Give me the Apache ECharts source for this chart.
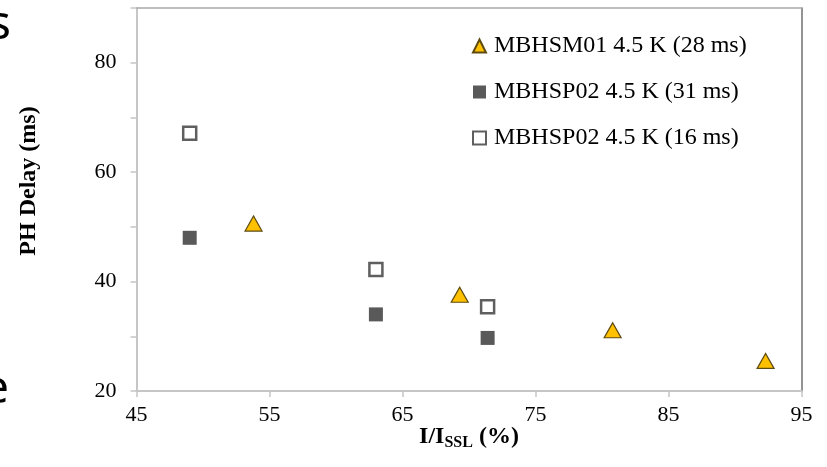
<!DOCTYPE html>
<html>
<head>
<meta charset="utf-8">
<script src="https://cdn.jsdelivr.net/npm/echarts@6/dist/echarts.min.js"></script>
<style>
html,body{margin:0;padding:0;background:#fff;}
#chart{width:827px;height:467px;}
</style>
</head>
<body>
<div id="chart"></div>
<script>
// Data
const seriesNames = ['MBHSM01 4.5 K (28 ms)', 'MBHSP02 4.5 K (31 ms)', 'MBHSP02 4.5 K (16 ms)'];
const sm01X = [53.8, 69.3, 80.8, 92.3];
const sm01Y = [50.6, 37.6, 31.1, 25.5];
const sp02aX = [49.0, 63.0, 71.4];
const sp02aY = [48.0, 34.0, 29.7];
const sp02bX = [49.0, 63.0, 71.4];
const sp02bY = [67.1, 42.2, 35.4];
const xTicks = [45, 55, 65, 75, 85, 95];
const yTickLabels = [20, 40, 60, 80];

const pairs = (xs, ys) => xs.map((x, i) => [x, ys[i]]);
const serif = '"Liberation Serif", "Times New Roman", serif';

const chart = echarts.init(document.getElementById('chart'), null, {renderer: 'canvas'});
chart.setOption({
  backgroundColor: '#ffffff',
  animation: false,
  grid: {left: 136.5, right: 25.5, top: 8, bottom: 76},
  legend: {
    orient: 'vertical',
    left: 467,
    top: 29,
    itemWidth: 13,
    itemHeight: 13,
    itemGap: 22,
    textStyle: {fontFamily: serif, fontSize: 24, color: '#000', lineHeight: 24, padding: [0,0,0,3]},
    data: seriesNames
  },
  xAxis: [{
    type: 'value', min: xTicks[0], max: xTicks[xTicks.length - 1], interval: 10,
    axisLine: {lineStyle: {color: '#c6c6c6', width: 2}},
    axisTick: {show: true, length: 6, lineStyle: {color: '#c6c6c6', width: 1.5}},
    splitLine: {show: false},
    axisLabel: {fontFamily: serif, fontSize: 22, color: '#000', margin: 13}
  }, {
    type: 'value', position: 'top', min: xTicks[0], max: xTicks[xTicks.length - 1],
    axisLine: {show: true, lineStyle: {color: '#a8a8a8', width: 1.5}},
    axisTick: {show: false}, axisLabel: {show: false}, splitLine: {show: false}
  }],
  yAxis: [{
    type: 'value', min: 20, max: 90, interval: 10,
    axisLine: {show: true, lineStyle: {color: '#c6c6c6', width: 2}},
    axisTick: {show: true, length: 6, lineStyle: {color: '#c6c6c6', width: 1.5}},
    splitLine: {show: false},
    axisLabel: {
      fontFamily: serif, fontSize: 22, color: '#000', margin: 20,
      formatter: v => yTickLabels.indexOf(v) >= 0 ? String(v) : ''
    }
  }, {
    type: 'value', position: 'right', min: 20, max: 90,
    axisLine: {show: true, lineStyle: {color: '#707070', width: 1.5}},
    axisTick: {show: false}, axisLabel: {show: false}, splitLine: {show: false}
  }],
  series: [{
    name: seriesNames[0], type: 'scatter', symbol: 'triangle', symbolSize: [17, 15],
    itemStyle: {color: '#FFC000', borderColor: '#5e4b12', borderWidth: 1.2, opacity: 1},
    data: pairs(sm01X, sm01Y)
  }, {
    name: seriesNames[1], type: 'scatter', symbol: 'rect', symbolSize: 14,
    itemStyle: {color: '#595959', borderColor: '#595959', borderWidth: 0, opacity: 1},
    data: pairs(sp02aX, sp02aY)
  }, {
    name: seriesNames[2], type: 'scatter', symbol: 'rect', symbolSize: 13,
    itemStyle: {color: '#ffffff', borderColor: '#5f5f5f', borderWidth: 2.5, opacity: 1},
    data: pairs(sp02bX, sp02bY)
  }],
  graphic: [{
    type: 'text', x: 29, y: 181, rotation: Math.PI / 2,
    style: {text: 'PH Delay (ms)', fontFamily: serif, fontSize: 24, fontWeight: 'bold', fill: '#000', align: 'center', verticalAlign: 'middle'}
  }, {
    type: 'text', x: 469, y: 437, rotation: 0,
    style: {
      text: '{b|I/I}{s|SSL}{b| (%)}', align: 'center', verticalAlign: 'middle',
      rich: {
        b: {fontFamily: serif, fontSize: 24, fontWeight: 'bold', fill: '#000', lineHeight: 28, verticalAlign: 'middle'},
        s: {fontFamily: serif, fontSize: 16, fontWeight: 'bold', fill: '#000', lineHeight: 28, verticalAlign: 'bottom', padding: [7, 0, 0, 0]}
      }
    }
  }, {
    type: 'text', x: 11, y: 25, rotation: 0,
    style: {text: 's', fontFamily: '"Noto Sans", sans-serif', fontSize: 48, fill: '#000', align: 'right', verticalAlign: 'middle'}
  }, {
    type: 'text', x: 9, y: 390, rotation: 0,
    style: {text: 'e', fontFamily: '"Noto Sans", sans-serif', fontSize: 46, fill: '#000', align: 'right', verticalAlign: 'middle'}
  }]
});
</script>
</body>
</html>
